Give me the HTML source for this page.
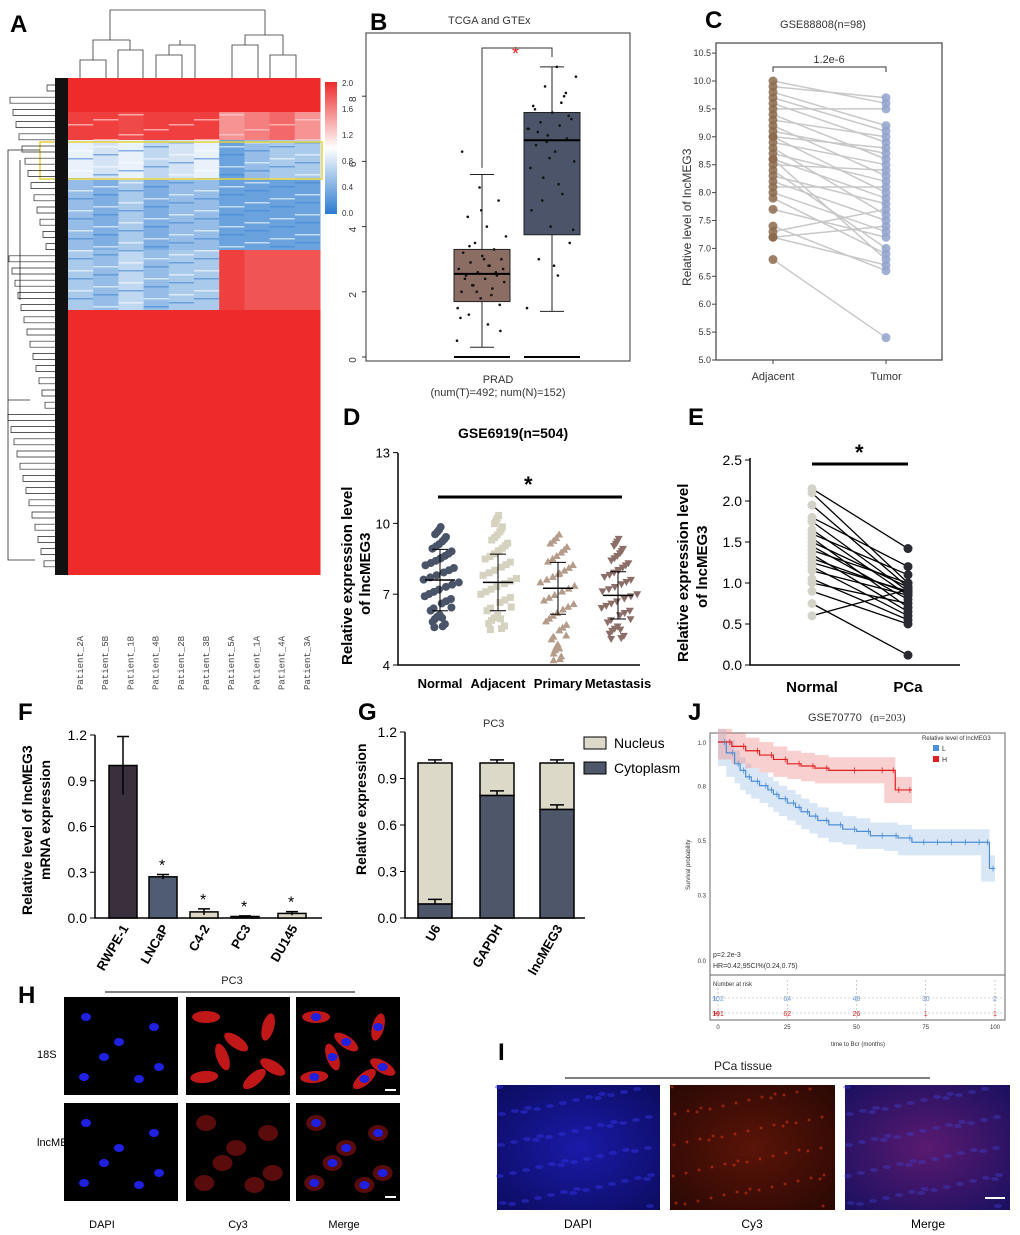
<!DOCTYPE html>
<html><head><meta charset="utf-8"><style>
body{margin:0;background:#fff}
svg{display:block;font-family:"Liberation Sans",Arial,sans-serif}
</style></head><body>
<svg id="fig" width="1020" height="1235" viewBox="0 0 1020 1235" xmlns="http://www.w3.org/2000/svg">
<defs>
<linearGradient id="cb" x1="0" y1="1" x2="0" y2="0"><stop offset="0" stop-color="#2b7bd0"/><stop offset="0.5" stop-color="#ffffff"/><stop offset="1" stop-color="#ee2a2a"/></linearGradient>
<radialGradient id="tis1" cx="0.5" cy="0.5" r="0.7"><stop offset="0" stop-color="#1a1aa8"/><stop offset="1" stop-color="#0c0c60"/></radialGradient>
<radialGradient id="tis2" cx="0.5" cy="0.5" r="0.7"><stop offset="0" stop-color="#5a1408"/><stop offset="1" stop-color="#2a0804"/></radialGradient>
<radialGradient id="tis3" cx="0.5" cy="0.5" r="0.7"><stop offset="0" stop-color="#5a1a70"/><stop offset="1" stop-color="#1a1060"/></radialGradient>
</defs>
<g id="panels"></g>
</svg>
<script>
// ---------- data ----------
const heatCols=["Patient_2A","Patient_5B","Patient_1B","Patient_4B","Patient_2B","Patient_3B","Patient_5A","Patient_1A","Patient_4A","Patient_3A"];
const heatBandY=[78,112,140,180,250,310,575];
const heatBandVals=[[2,2,2,2,2,2,2,2,2,2],[1.9,1.9,1.85,1.9,1.9,1.9,1.5,1.6,1.7,1.5],[0.9,0.8,0.9,0.7,0.8,0.9,0.3,0.5,0.6,0.6],[0.5,0.4,0.6,0.4,0.5,0.5,0.3,0.3,0.3,0.3],[0.6,0.5,0.7,0.5,0.6,0.6,1.9,1.8,1.8,1.8],[2,2,2,2,2,2,2,2,2,2]];
const bStats=[[0.3,1.7,2.55,3.3,5.6],[1.4,3.75,6.65,7.5,8.9]];
const bNormalPts=[0.5,1,1.3,1.6,1.8,2,2.1,2.2,2.3,2.4,2.5,2.5,2.6,2.7,2.8,2.9,3,3.1,3.2,3.3,3.5,3.7,4,4.3,4.8,5.2,1.2,1.9,2.2,2.7,3,2.4,2.6,2,1.5,2.8,3.4,0.8,4.5,6.3];
const bTumorPts=[1.5,2.5,3,3.5,4,4.5,5,5.5,6,6.3,6.5,6.7,6.8,7,7.1,7.2,7.3,7.5,7.7,8,8.3,8.6,8.9,6.9,7.4,6.1,5.8,7.8,4.8,3.9,2.8,7.6,8.1,6.6,7.0,5.3];
const cAdj=[10,9.9,9.8,9.6,9.5,9.4,9.3,9.2,9.1,9,8.9,8.8,8.7,8.6,8.5,8.4,8.3,8.2,8.1,8,7.9,7.7,7.4,7.3,7.2,7.2,6.8,9.7,9.0,8.6];
const cTum=[9.6,9.7,9.2,8.9,9.5,8.6,9.0,8.3,8.7,8.0,8.5,7.6,8.2,7.9,8.4,7.0,7.8,7.5,8.1,7.3,6.9,7.2,6.6,7.7,6.7,7.4,5.4,9.1,8.8,6.8];
const dCats=["Normal","Adjacent","Primary","Metastasis"];
const dMeans=[7.6,7.5,7.25,6.95];
const dSD=[1.3,1.2,1.1,1.0];
const dMins=[5.6,5.5,4.2,5.1];
const dMaxs=[9.9,10.4,9.6,9.4];
const eNormal=[2.15,2.1,1.95,1.8,1.75,1.65,1.6,1.55,1.5,1.45,1.4,1.35,1.3,1.25,1.2,1.15,1.05,1.0,0.9,0.75,0.6];
const ePCa=[1.42,1.0,0.95,1.2,0.9,0.85,1.1,0.7,0.95,0.8,1.0,0.65,0.88,0.9,0.6,0.85,0.55,0.75,0.5,0.12,0.92];
const fCats=["RWPE-1","LNCaP","C4-2","PC3","DU145"];
const fVals=[1.0,0.27,0.04,0.01,0.03];
const fErr=[0.19,0.015,0.02,0.004,0.012];
const gCats=["U6","GAPDH","lncMEG3"];
const gCyto=[0.09,0.79,0.70];
const gTotal=[1.0,1.0,1.0];
const jTimesL=[0,3,6,8,10,12,15,18,20,22,25,28,30,33,36,40,45,50,55,60,65,70,75,80,85,90,95,98,100];
const jSurvL=[1,0.95,0.9,0.87,0.84,0.82,0.8,0.78,0.76,0.74,0.72,0.7,0.68,0.66,0.64,0.62,0.6,0.59,0.57,0.57,0.56,0.54,0.54,0.54,0.54,0.54,0.54,0.42,0.42];
const jTimesH=[0,5,10,15,20,25,30,35,40,50,60,64,66,70];
const jSurvH=[1,0.98,0.96,0.94,0.92,0.9,0.89,0.88,0.87,0.87,0.87,0.78,0.78,0.78];

// ---------- helpers ----------
const NS="http://www.w3.org/2000/svg";
const root=document.getElementById('panels');
function mk(tag,attrs,parent,txt){const e=document.createElementNS(NS,tag);for(const k in attrs)e.setAttribute(k,attrs[k]);if(txt!==undefined)e.textContent=txt;(parent||root).appendChild(e);return e;}
function grp(name){const g=mk('g',{});return g;}
function txt(p,x,y,s,size,opts){const o=Object.assign({x:x,y:y,'font-size':size,fill:'#000'},opts||{});const t=mk('text',o,p,s);return t;}
function hcol(v){const t=v/2;let r,g,b;if(t<0.5){const u=t/0.5;r=43+(255-43)*u;g=123+(255-123)*u;b=208+(255-208)*u;}else{const u=(t-0.5)/0.5;r=255-(255-238)*u;g=255-(255-42)*u;b=255-(255-42)*u;}return `rgb(${r|0},${g|0},${b|0})`;}
function jit(i){return ((i*0.618034)%1)-0.5;}

// ---------- panel letters ----------
const L=grp('panel-letters');
[["A",10,32],["B",370,30],["C",705,28],["D",343,425],["E",688,425],["F",18,720],["G",358,720],["J",688,720],["H",18,1003],["I",498,1060]].forEach(a=>{const t=txt(L,a[1],a[2],a[0],24,{'font-weight':'bold'});});

// ---------- A heatmap ----------
const A=grp('panel-a-heatmap');
const hx0=68,hw=25.2;
heatBandVals.forEach((row,bi)=>{row.forEach((v,ci)=>{const r=mk('rect',{x:hx0+ci*hw,y:heatBandY[bi],width:hw+0.5,height:heatBandY[bi+1]-heatBandY[bi],fill:hcol(v)},A);});});
for(let y=142;y<310;y+=4){for(let c=0;c<10;c++){if(y>=250&&c>=6)continue;const w=((y*7+c*13)%5);if(w<2)mk('rect',{x:hx0+c*hw,y:y,width:hw,height:1.5,fill:w==0?'#ffffff':'#3f86d4',opacity:0.6},A);}}
for(let y=114;y<140;y+=5){for(let c=0;c<10;c++){const w=((y*3+c*11)%4);if(w==0)mk('rect',{x:hx0+c*hw,y:y,width:hw,height:1.5,fill:'#ffd0d0',opacity:0.7},A);}}
mk('rect',{x:40,y:142,width:282,height:37,fill:'none',stroke:'#e6d23a','stroke-width':1.5},A);
mk('rect',{x:55,y:78,width:13,height:497,fill:'#111'},A);
for(let i=0;i<40;i++){const y=85+i*12.2;const d=8+((i*37)%40);mk('path',{d:`M55 ${y} H${55-d} V${y+6} H55`,fill:'none',stroke:'#222','stroke-width':0.7},A);}
mk('path',{d:'M40 150 H8 V400 H30 M8 400 V560 H35 M20 160 V300',fill:'none',stroke:'#222','stroke-width':0.8},A);
mk('path',{d:'M80 78 V60 H106 V78 M93 60 V40 H130 M118 78 V50 H143 V78 M130 50 V40 M156 78 V55 H182 V78 M169 55 V45 H195 V78 M180 45 V40 M110 40 V10 H265 M232 78 V45 H258 V78 M245 45 V35 H283 M270 78 V55 H296 V78 M283 55 V35 M265 35 V10',fill:'none',stroke:'#333','stroke-width':0.8},A);
heatCols.forEach((c,i)=>{const t=txt(A,0,0,c,9,{transform:`translate(${hx0+i*hw+15},690) rotate(-90)`,'font-family':'Liberation Mono',fill:'#444'});});
mk('rect',{x:325,y:82,width:12,height:132,fill:'url(#cb)'},A);
["2.0","1.6","1.2","0.8","0.4","0.0"].forEach((s,i)=>txt(A,342,86+i*26,s,8,{fill:'#333'}));

// ---------- B boxplot ----------
const B=grp('panel-b-boxplot');
const byv=v=>357-v*32.6;
mk('rect',{x:366,y:33,width:264,height:328,fill:'none',stroke:'#333'},B);
txt(B,448,24,'TCGA and GTEx',11,{fill:'#333'});
[0,2,4,6,8].forEach(v=>{mk('line',{x1:362,x2:366,y1:byv(v),y2:byv(v),stroke:'#333'},B);txt(B,0,0,String(v),10,{transform:`translate(356,${byv(v)+3}) rotate(-90)`,fill:'#333','text-anchor':'middle'});});
const bX=[482,552],bCol=['#8b6d64','#4b5468'];
bStats.forEach((s,i)=>{const x=bX[i];
 mk('line',{x1:x,x2:x,y1:byv(s[0]),y2:byv(s[4]),stroke:'#222'},B);
 mk('line',{x1:x-12,x2:x+12,y1:byv(s[0]),y2:byv(s[0]),stroke:'#222'},B);
 mk('line',{x1:x-12,x2:x+12,y1:byv(s[4]),y2:byv(s[4]),stroke:'#222'},B);
 const r=mk('rect',{x:x-28,y:byv(s[3]),width:56,height:byv(s[1])-byv(s[3]),fill:bCol[i],stroke:'#222'},B);
 mk('line',{x1:x-28,x2:x+28,y1:byv(s[2]),y2:byv(s[2]),stroke:'#000','stroke-width':2},B);
 mk('line',{x1:x-28,x2:x+28,y1:byv(0),y2:byv(0),stroke:'#000','stroke-width':2},B);});
[bNormalPts,bTumorPts].forEach((arr,i)=>arr.forEach((v,j)=>{const c=mk('circle',{cx:bX[i]+jit(j)*50,cy:byv(v),r:1.3,fill:'#111'},B);}));
mk('path',{d:`M482 ${byv(5.8)} V48 H552 V${byv(9.2)}`,fill:'none',stroke:'#333'},B);
txt(B,512,60,'*',18,{fill:'#e02020'});
txt(B,498,383,'PRAD',11,{fill:'#333','text-anchor':'middle'});
txt(B,498,396,'(num(T)=492; num(N)=152)',11,{fill:'#333','text-anchor':'middle'});

// ---------- C paired ----------
const C=grp('panel-c-paired');
const cyv=v=>360-(v-5)*55.8;
mk('rect',{x:716,y:43,width:226,height:317,fill:'none',stroke:'#444','stroke-width':1.2},C);
txt(C,823,28,'GSE88808(n=98)',11,{fill:'#333','text-anchor':'middle'});
[5,5.5,6,6.5,7,7.5,8,8.5,9,9.5,10,10.5].forEach(v=>{mk('line',{x1:712,x2:716,y1:cyv(v),y2:cyv(v),stroke:'#444'},C);txt(C,711,cyv(v)+3,v.toFixed(1),9,{fill:'#333','text-anchor':'end'});});
txt(C,0,0,'Relative level of lncMEG3',12,{transform:'translate(691,286) rotate(-90)',fill:'#333'});
cAdj.forEach((v,i)=>{mk('line',{x1:773,y1:cyv(v),x2:886,y2:cyv(cTum[i]),stroke:'#c8c8c8','stroke-width':1.5},C);});
cAdj.forEach(v=>{const c=mk('circle',{cx:773,cy:cyv(v),r:4.5,fill:'#8b6a4c',opacity:0.85},C);});
cTum.forEach(v=>{const c=mk('circle',{cx:886,cy:cyv(v),r:4.5,fill:'#8fa3cc',opacity:0.85},C);});
[773,886].forEach(x=>mk('line',{x1:x,x2:x,y1:360,y2:364,stroke:'#444'},C));
mk('path',{d:'M773 72 V67 H886 V72',fill:'none',stroke:'#333'},C);
txt(C,829,63,'1.2e-6',11,{fill:'#333','text-anchor':'middle'});
txt(C,773,380,'Adjacent',11,{fill:'#333','text-anchor':'middle'});txt(C,886,380,'Tumor',11,{fill:'#333','text-anchor':'middle'});

// ---------- D ----------
const D=grp('panel-d-scatter');
const dyv=v=>665-(v-4)*23.6, dX=[440,498,558,618], dCol=['#4a5468','#d6d2c0','#b59c8a','#8c6e68'];
mk('path',{d:'M398 453 V665 H640',fill:'none',stroke:'#000','stroke-width':1.5},D);
[4,7,10,13].forEach(v=>{mk('line',{x1:393,x2:398,y1:dyv(v),y2:dyv(v),stroke:'#000'},D);txt(D,390,dyv(v)+5,String(v),13,{'text-anchor':'end'});});
txt(D,0,0,'Relative expression level',15,{transform:'translate(352,665) rotate(-90)','font-weight':'bold'});
txt(D,0,0,'of lncMEG3',15,{transform:'translate(370,615) rotate(-90)','font-weight':'bold'});
txt(D,458,438,'GSE6919(n=504)',14,{'font-weight':'bold'});
dCats.forEach((c,i)=>{const x=dX[i];const n=45;for(let j=0;j<n;j++){const f=j/(n-1);const v=dMins[i]+(dMaxs[i]-dMins[i])*((f+((j*0.37)%0.3))%1);const dev=1-Math.abs(v-dMeans[i])/(dMaxs[i]-dMins[i]+0.01)*1.6;const sh=i==0?mk('circle',{cx:x+jit(j)*44*Math.max(dev,0.2),cy:dyv(v),r:4,fill:dCol[i]},D):mk(i==1?'rect':'path',i==1?{x:x+jit(j)*44*Math.max(dev,0.2)-3.5,y:dyv(v)-3.5,width:7,height:7,fill:dCol[i]}:{d:`M${x+jit(j)*44*Math.max(dev,0.2)} ${dyv(v)-(i==2?4:-4)} l4 ${i==2?7:-7} h-8z`,fill:dCol[i]},D);}
 mk('line',{x1:x-15,x2:x+15,y1:dyv(dMeans[i]),y2:dyv(dMeans[i]),stroke:'#000','stroke-width':1.5},D);
 mk('path',{d:`M${x} ${dyv(dMeans[i]-dSD[i])} V${dyv(dMeans[i]+dSD[i])} M${x-8} ${dyv(dMeans[i]-dSD[i])} h16 M${x-8} ${dyv(dMeans[i]+dSD[i])} h16`,stroke:'#000',fill:'none'},D);
 txt(D,x,688,c,13,{'text-anchor':'middle','font-weight':'bold'});});
mk('line',{x1:438,x2:622,y1:497,y2:497,stroke:'#000','stroke-width':3},D);
txt(D,524,492,'*',22,{'font-weight':'bold'});

// ---------- E ----------
const E=grp('panel-e-paired');
const eyv=v=>665-v*82;
mk('path',{d:'M750 458 V665 H960',fill:'none',stroke:'#000','stroke-width':1.5},E);
[0,0.5,1,1.5,2,2.5].forEach(v=>{mk('line',{x1:745,x2:750,y1:eyv(v),y2:eyv(v),stroke:'#000'},E);txt(E,742,eyv(v)+5,v.toFixed(1),14,{'text-anchor':'end'});});
txt(E,0,0,'Relative expression level',15,{transform:'translate(688,662) rotate(-90)','font-weight':'bold'});
txt(E,0,0,'of lncMEG3',15,{transform:'translate(707,608) rotate(-90)','font-weight':'bold'});
eNormal.forEach((v,i)=>mk('line',{x1:812,y1:eyv(v),x2:908,y2:eyv(ePCa[i]),stroke:'#000','stroke-width':1.3},E));
eNormal.forEach(v=>{const c=mk('circle',{cx:812,cy:eyv(v),r:4.5,fill:'#d4d3c8'},E);});
ePCa.forEach(v=>{const c=mk('circle',{cx:908,cy:eyv(v),r:4.5,fill:'#2a2a33'},E);});
mk('line',{x1:812,x2:908,y1:464,y2:464,stroke:'#000','stroke-width':3},E);
txt(E,855,460,'*',22,{'font-weight':'bold'});
txt(E,812,692,'Normal',15,{'text-anchor':'middle','font-weight':'bold'});txt(E,908,692,'PCa',15,{'text-anchor':'middle','font-weight':'bold'});

// ---------- F ----------
const F=grp('panel-f-bars');
const fyv=v=>918-v*152.5, fX=[123,163,204,245,292], fCol=['#3a2f3c','#4f5c73','#ddd9c6','#ddd9c6','#ddd9c6'];
mk('path',{d:'M95 735 V918 H322',fill:'none',stroke:'#000','stroke-width':1.5},F);
[0,0.3,0.6,0.9,1.2].forEach(v=>{mk('line',{x1:90,x2:95,y1:fyv(v),y2:fyv(v),stroke:'#000'},F);txt(F,87,fyv(v)+5,v.toFixed(1),14,{'text-anchor':'end'});});
txt(F,0,0,'Relative level of lncMEG3',14,{transform:'translate(32,915) rotate(-90)','font-weight':'bold'});
txt(F,0,0,'mRNA expression',14,{transform:'translate(50,880) rotate(-90)','font-weight':'bold'});
fCats.forEach((c,i)=>{const x=fX[i];const r=mk('rect',{x:x-14,y:fyv(fVals[i]),width:28,height:918-fyv(fVals[i]),fill:fCol[i],stroke:'#000','stroke-width':1.5},F);
 mk('path',{d:`M${x} ${fyv(fVals[i]-fErr[i])} V${fyv(fVals[i]+fErr[i])} M${x-6} ${fyv(fVals[i]+fErr[i])} h12`,stroke:'#000','stroke-width':1.5,fill:'none'},F);
 if(i>0)txt(F,x-4,fyv(fVals[i]+fErr[i])-4,'*',16,{});
 txt(F,0,0,c,13,{transform:`translate(${x+6},928) rotate(-60)`,'text-anchor':'end','font-weight':'bold'});});

// ---------- G ----------
const G=grp('panel-g-stacked');
const gyv=v=>918-v*155, gX=[435,497,557];
mk('path',{d:'M405 732 V918 H585',fill:'none',stroke:'#000','stroke-width':1.5},G);
[0,0.3,0.6,0.9,1.2].forEach(v=>{mk('line',{x1:400,x2:405,y1:gyv(v),y2:gyv(v),stroke:'#000'},G);txt(G,397,gyv(v)+5,v.toFixed(1),14,{'text-anchor':'end'});});
txt(G,0,0,'Relative expression',14,{transform:'translate(366,875) rotate(-90)','font-weight':'bold'});
txt(G,483,727,'PC3',11,{fill:'#333'});
gCats.forEach((c,i)=>{const x=gX[i];
 const n=mk('rect',{x:x-17,y:gyv(gTotal[i]),width:34,height:gyv(gCyto[i])-gyv(gTotal[i]),fill:'#dcd9c8',stroke:'#000','stroke-width':1.5},G);
 const cy=mk('rect',{x:x-17,y:gyv(gCyto[i]),width:34,height:918-gyv(gCyto[i]),fill:'#4e5769',stroke:'#000','stroke-width':1.5},G);
 mk('path',{d:`M${x-7} ${gyv(gTotal[i]+0.02)} h14 M${x} ${gyv(gTotal[i])} V${gyv(gTotal[i]+0.02)} M${x-7} ${gyv(gCyto[i]+0.03)} h14 M${x} ${gyv(gCyto[i])} V${gyv(gCyto[i]+0.03)}`,stroke:'#000','stroke-width':1.5,fill:'none'},G);
 txt(G,0,0,c,13,{transform:`translate(${x+6},928) rotate(-60)`,'text-anchor':'end','font-weight':'bold'});});
mk('rect',{x:584,y:737,width:22,height:12,fill:'#dcd9c8',stroke:'#000'},G);txt(G,614,748,'Nucleus',14,{});
mk('rect',{x:584,y:762,width:22,height:12,fill:'#4e5769',stroke:'#000'},G);txt(G,614,773,'Cytoplasm',14,{});

// ---------- J KM ----------
const J=grp('panel-j-km');
const jx=t=>718+t*2.77, jy=p=>960-p*218;
mk('rect',{x:710,y:733,width:295,height:287,fill:'none',stroke:'#666'},J);
mk('line',{x1:710,x2:1005,y1:975,y2:975,stroke:'#666'},J);
txt(J,808,721,'GSE70770',11,{fill:'#333'});txt(J,870,721,'(n=203)',11,{fill:'#333','font-family':'Liberation Serif'});
[[1.0,'1.0'],[0.8,'0.8'],[0.55,'0.5'],[0.3,'0.3'],[0,'0.0']].forEach(a=>txt(J,706,jy(a[0])+3,a[1],6,{fill:'#333','text-anchor':'end'}));
txt(J,0,0,'Survival probability',6,{transform:'translate(690,890) rotate(-90)',fill:'#333'});
function step(ts,ps,off){let d=`M${jx(ts[0])} ${jy(ps[0]+off)}`;for(let i=1;i<ts.length;i++){d+=` H${jx(ts[i])} V${jy(ps[i]+off)}`;}return d;}
function band(ts,ps,w){return step(ts,ps,w)+' '+step(ts.slice().reverse(),ps.slice().reverse(),-w).replace('M','L')+' Z';}
mk('path',{d:band(jTimesL,jSurvL,0.06),fill:'#a9c7ec',opacity:0.45},J);
mk('path',{d:band(jTimesH,jSurvH,0.06),fill:'#f08a8a',opacity:0.4},J);
const lL=mk('path',{d:step(jTimesL,jSurvL,0),fill:'none',stroke:'#4d8ed6','stroke-width':1.2},J);
const lH=mk('path',{d:step(jTimesH,jSurvH,0),fill:'none',stroke:'#e02020','stroke-width':1.2},J);
jTimesH.forEach((t,i)=>{if(i>0)mk('line',{x1:jx(t)-2,x2:jx(t)-2,y1:jy(jSurvH[i-1])-3,y2:jy(jSurvH[i-1])+3,stroke:'#e02020','stroke-width':0.8},J);});
jTimesL.forEach((t,i)=>{if(i>0)mk('line',{x1:jx(t)-2,x2:jx(t)-2,y1:jy(jSurvL[i-1])-3,y2:jy(jSurvL[i-1])+3,stroke:'#4d8ed6','stroke-width':0.8},J);});
txt(J,922,740,'Relative level of lncMEG3',6,{fill:'#333'});
mk('rect',{x:933,y:745,width:6,height:6,fill:'#4d8ed6'},J);txt(J,942,751,'L',7,{fill:'#333'});
mk('rect',{x:933,y:756,width:6,height:6,fill:'#e02020'},J);txt(J,942,762,'H',7,{fill:'#333'});
txt(J,713,957,'p=2.2e-3',7,{fill:'#333'});txt(J,713,968,'HR=0.42,95CI%(0.24,0.75)',7,{fill:'#333'});
txt(J,713,986,'Number at risk',6,{fill:'#333'});
[[0,'102','101'],[25,'64','62'],[50,'48','26'],[75,'30','1'],[100,'2','1']].forEach(a=>{txt(J,jx(a[0]),1001,a[1],7,{fill:'#6a9ad6','text-anchor':'middle'});txt(J,jx(a[0]),1016,a[2],7,{fill:'#d02020','text-anchor':'middle'});mk('line',{x1:jx(a[0]),x2:jx(a[0]),y1:980,y2:1020,stroke:'#aaa','stroke-dasharray':'2 2','stroke-width':0.6},J);});
mk('line',{x1:712,x2:1003,y1:998,y2:998,stroke:'#aaa','stroke-dasharray':'2 2','stroke-width':0.6},J);
mk('line',{x1:712,x2:1003,y1:1013,y2:1013,stroke:'#aaa','stroke-dasharray':'2 2','stroke-width':0.6},J);
txt(J,714,1001,'L',7,{fill:'#6a9ad6'});txt(J,714,1016,'H',7,{fill:'#d02020'});
[0,25,50,75,100].forEach(t=>txt(J,jx(t),1029,String(t),6,{fill:'#333','text-anchor':'middle'}));
txt(J,858,1046,'time to Bcr (months)',6,{fill:'#333','text-anchor':'middle'});

// ---------- H microscopy ----------
const H=grp('panel-h-microscopy');
txt(H,232,984,'PC3',11,{'text-anchor':'middle',fill:'#222'});
mk('line',{x1:105,x2:355,y1:992,y2:992,stroke:'#000'},H);
const hXs=[64,186,296],hYs=[997,1103],hW=[114,104,104];
const cells=[[22,20],[55,45],[40,60],[90,30],[75,82],[20,80],[95,70]];
hYs.forEach((y,ri)=>hXs.forEach((x,ci)=>{const w=hW[ci];mk('rect',{x:x,y:y,width:w,height:98,fill:'#000'},H);
 cells.forEach((c,k)=>{const cx=x+c[0]*w/114,cy=y+c[1];
  if(ci>0){if(ri==0)mk('ellipse',{cx:cx,cy:cy,rx:14,ry:6,fill:'#c01818',transform:`rotate(${k*35} ${cx} ${cy})`},H);else mk('ellipse',{cx:cx,cy:cy,rx:10,ry:8,fill:'#5a0c0c'},H);}
  if(ci!=1)mk('ellipse',{cx:cx,cy:cy,rx:5,ry:4,fill:'#2020e0'},H);}); }));
mk('line',{x1:385,x2:396,y1:1090,y2:1090,stroke:'#fff','stroke-width':2},H);mk('line',{x1:385,x2:396,y1:1197,y2:1197,stroke:'#fff','stroke-width':2},H);
txt(H,37,1058,'18S',11,{});txt(H,37,1146,'lncMEG3',11,{});
txt(H,102,1228,'DAPI',11,{'text-anchor':'middle'});txt(H,238,1228,'Cy3',11,{'text-anchor':'middle'});txt(H,344,1228,'Merge',11,{'text-anchor':'middle'});

// ---------- I tissue ----------
const I=grp('panel-i-tissue');
txt(I,743,1070,'PCa tissue',12,{'text-anchor':'middle',fill:'#222'});
mk('line',{x1:565,x2:930,y1:1078,y2:1078,stroke:'#000'},I);
[[497,163,'url(#tis1)'],[670,165,'url(#tis2)'],[845,165,'url(#tis3)']].forEach(a=>mk('rect',{x:a[0],y:1085,width:a[1],height:125,fill:a[2]},I));
for(let k=0;k<60;k++){const x=((k*37)%160),y=((k*53)%120);mk('ellipse',{cx:499+x,cy:1087+y,rx:4,ry:2,fill:'#3030e0',opacity:0.5},I);mk('circle',{cx:672+x,cy:1087+y,r:1.5,fill:'#d03010',opacity:0.6},I);mk('ellipse',{cx:847+x,cy:1087+y,rx:4,ry:2,fill:'#4040d0',opacity:0.4},I);}
mk('line',{x1:985,x2:1005,y1:1198,y2:1198,stroke:'#fff','stroke-width':2},I);
txt(I,578,1228,'DAPI',12,{'text-anchor':'middle'});txt(I,752,1228,'Cy3',12,{'text-anchor':'middle'});txt(I,928,1228,'Merge',12,{'text-anchor':'middle'});
</script>
</body></html>
